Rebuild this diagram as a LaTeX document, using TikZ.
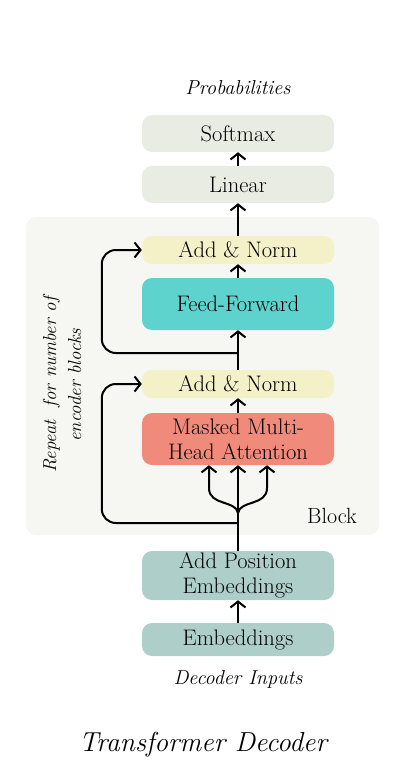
\documentclass[tikz,border=0pt]{standalone}
\usepackage{tikz}
\usetikzlibrary{arrows.meta,calc}

\definecolor{greybox}{HTML}{E9ECE3}
\definecolor{normbox}{HTML}{F4F1C9}
\definecolor{ffbox}{HTML}{5ED3CE}
\definecolor{attbox}{HTML}{F08A7A}
\definecolor{embbox}{HTML}{AECFC9}
\definecolor{blockbg}{HTML}{F6F7F2}

\tikzset{
  layer/.style={rounded corners=10pt, minimum width=192pt, inner sep=0pt, align=center,
    font=\fontsize{22.5}{25}\selectfont},
  arr/.style={line width=2pt, -{Straight Barb[length=6pt,width=15pt]}},
  caption/.style={font=\fontsize{20.2}{22}\selectfont\itshape},
}

\begin{document}
\begin{tikzpicture}[x=1pt,y=-1pt]

\useasboundingbox (0,0) rectangle (405,767);

% Block background
\node[fill=blockbg, rounded corners=10pt, minimum width=353pt, minimum height=318pt, inner sep=0pt] (block) at (202.5,376) {};
\node[font=\fontsize{22}{24}\selectfont] (blocklabel) at (332,516) {Block};
\node[rotate=90, align=center, font=\fontsize{18.8}{25}\selectfont\itshape] (repeat) at (62,385) {Repeat\ \ for number of\\encoder blocks};

% Output side
\node[caption] (probs) at (238,88) {Probabilities};
\node[layer, fill=greybox, minimum height=37pt] (softmax) at (238,133.5) {Softmax};
\node[layer, fill=greybox, minimum height=37pt] (linear) at (238,184.5) {Linear};

% Decoder block
\node[layer, fill=normbox, minimum height=28pt] (norm1) at (238,250) {Add \& Norm};
\node[layer, fill=ffbox, minimum height=52pt] (ff) at (238,304) {Feed-Forward};
\node[layer, fill=normbox, minimum height=28pt] (norm2) at (238,384) {Add \& Norm};
\node[layer, fill=attbox, minimum height=52pt] (mha) at (238,439) {Masked Multi-\\Head Attention};

% Input side
\node[layer, fill=embbox, minimum height=49pt] (posemb) at (238,575.5) {Add Position\\Embeddings};
\node[layer, fill=embbox, minimum height=33pt] (emb) at (238,639.5) {Embeddings};
\node[caption] (inputs) at (238,679) {Decoder Inputs};

\node[font=\fontsize{27.5}{30}\selectfont\itshape] (title) at (203,745) {Transformer Decoder};

% Connectors
\coordinate (res1) at (238,353);
\coordinate (res2) at (238,523);
\coordinate (split) at (238,513);

\draw[arr] (emb.north) -- (posemb.south);
\draw[arr] (posemb.north) -- (mha.south);
\draw[arr] (split) .. controls (236,500) and (209,506) .. (209,488) -- ([xshift=-29pt]mha.south);
\draw[arr] (split) .. controls (240,500) and (267,506) .. (267,488) -- ([xshift=29pt]mha.south);
\draw[arr] (mha.north) -- (norm2.south);
\draw[arr] (norm2.north) -- (ff.south);
\draw[arr] (ff.north) -- (norm1.south);
\draw[arr] (norm1.north) -- (linear.south);
\draw[arr] (linear.north) -- (softmax.south);

% Residuals
\draw[arr, rounded corners=14pt] (res1) -| ([xshift=-40pt]norm1.west) -- (norm1.west);
\draw[arr, rounded corners=14pt] (res2) -| ([xshift=-40pt]norm2.west) -- (norm2.west);

\end{tikzpicture}
\end{document}
